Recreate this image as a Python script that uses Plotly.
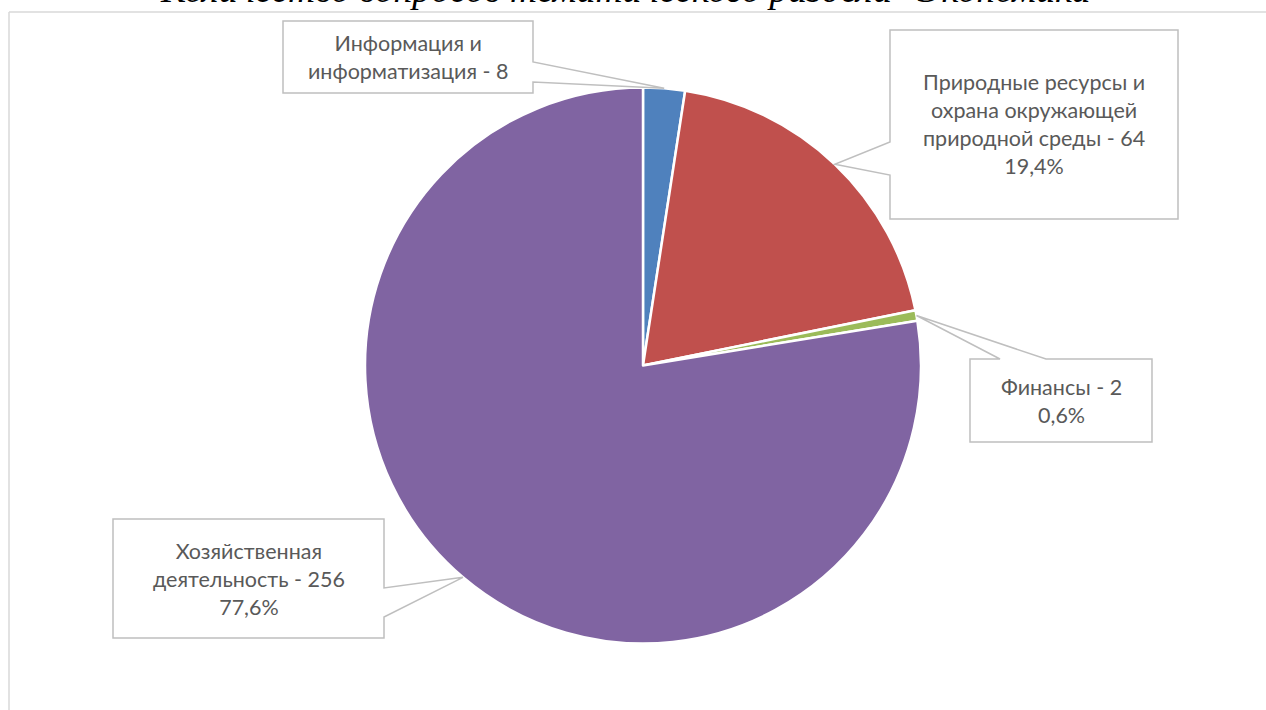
import math
import plotly.graph_objects as go

# ---- data ----
categories = ["Информация и информатизация", "Природные ресурсы и охрана окружающей природной среды",
              "Финансы", "Хозяйственная деятельность"]
label_lines = [["Информация и", "информатизация - {v}"],
               ["Природные ресурсы и", "охрана окружающей", "природной среды - {v}"],
               ["Финансы - {v}"],
               ["Хозяйственная", "деятельность - {v}"]]
values = [8, 64, 2, 256]
show_pct = [False, True, True, True]
colors = ["#4F81BD", "#C0504D", "#9BBB59", "#8064A2"]
title_text = "Количество вопросов тематического раздела \"Экономика\""

W, H = 1266, 710
CX, CY, R = 643, 365.5, 278

def px(x):
    return x / W

def py(y):
    return 1 - y / H

fig = go.Figure(go.Pie(
    labels=categories, values=values, sort=False, direction="clockwise", rotation=0,
    marker=dict(colors=colors, line=dict(color="white", width=2.5)),
    textinfo="none", hoverinfo="label+value+percent", showlegend=False,
    domain=dict(x=[px(CX - R), px(CX + R)], y=[py(CY + R), py(CY - R)]),
))

# callout boxes (layout) : box rect, wedge base side and positions
boxes = [
    dict(x0=283, y0=21, x1=533, y1=93, side="right", a=62, b=82),
    dict(x0=890, y0=30, x1=1178, y1=219, side="left", a=142, b=175),
    dict(x0=970, y0=359, x1=1152, y1=442, side="top", a=1000, b=1046),
    dict(x0=113, y0=519, x1=384, y1=638, side="right", a=588, b=617),
]

total = sum(values)
cum = 0
shapes = []
annotations = []
for i, v in enumerate(values):
    mid = (cum + v / 2) / total * 2 * math.pi
    cum += v
    tx = CX + R * math.sin(mid)
    ty = CY - R * math.cos(mid)
    b = boxes[i]
    x0, y0, x1, y1 = b["x0"], b["y0"], b["x1"], b["y1"]
    if b["side"] == "right":
        pts = [(x0, y0), (x1, y0), (x1, b["a"]), (tx, ty), (x1, b["b"]), (x1, y1), (x0, y1)]
    elif b["side"] == "left":
        pts = [(x0, y0), (x1, y0), (x1, y1), (x0, y1), (x0, b["b"]), (tx, ty), (x0, b["a"])]
    else:  # top
        pts = [(x0, y0), (b["a"], y0), (tx, ty), (b["b"], y0), (x1, y0), (x1, y1), (x0, y1)]
    path = "M " + " L ".join(f"{px(x):.5f},{py(y):.5f}" for x, y in pts) + " Z"
    shapes.append(dict(type="path", xref="paper", yref="paper", path=path,
                       fillcolor="white", line=dict(color="#BFBFBF", width=1.5), layer="above"))
    lines = [s.format(v=v) for s in label_lines[i]]
    if show_pct[i]:
        lines.append(f"{v / total * 100:.1f}%".replace(".", ","))
    annotations.append(dict(
        x=px((x0 + x1) / 2), y=py((y0 + y1) / 2), xref="paper", yref="paper",
        text="<br>".join(lines), showarrow=False, xanchor="center", yanchor="middle",
        align="center", font=dict(family="Lato", size=21.5, color="#595959"),
    ))

# outer frame lines
shapes.insert(0, dict(type="line", xref="paper", yref="paper", x0=px(9), y0=py(12), x1=1, y1=py(12),
                      line=dict(color="#D9D9D9", width=1.5)))
shapes.insert(0, dict(type="line", xref="paper", yref="paper", x0=px(9), y0=py(12), x1=px(9), y1=0,
                      line=dict(color="#D9D9D9", width=1.5)))

annotations.append(dict(
    x=px(633), y=py(12), xref="paper", yref="paper", text="<i>" + title_text + "</i>",
    showarrow=False, xanchor="center", yanchor="bottom",
    font=dict(family="Liberation Serif", size=37.5, color="black"),
))

fig.update_layout(
    width=W, height=H, margin=dict(l=0, r=0, t=0, b=0),
    paper_bgcolor="white", plot_bgcolor="white",
    shapes=shapes, annotations=annotations,
)

fig.write_html("out.html", config={"displayModeBar": False},
               post_script="document.body.style.margin='0';document.body.style.overflow='hidden';")
